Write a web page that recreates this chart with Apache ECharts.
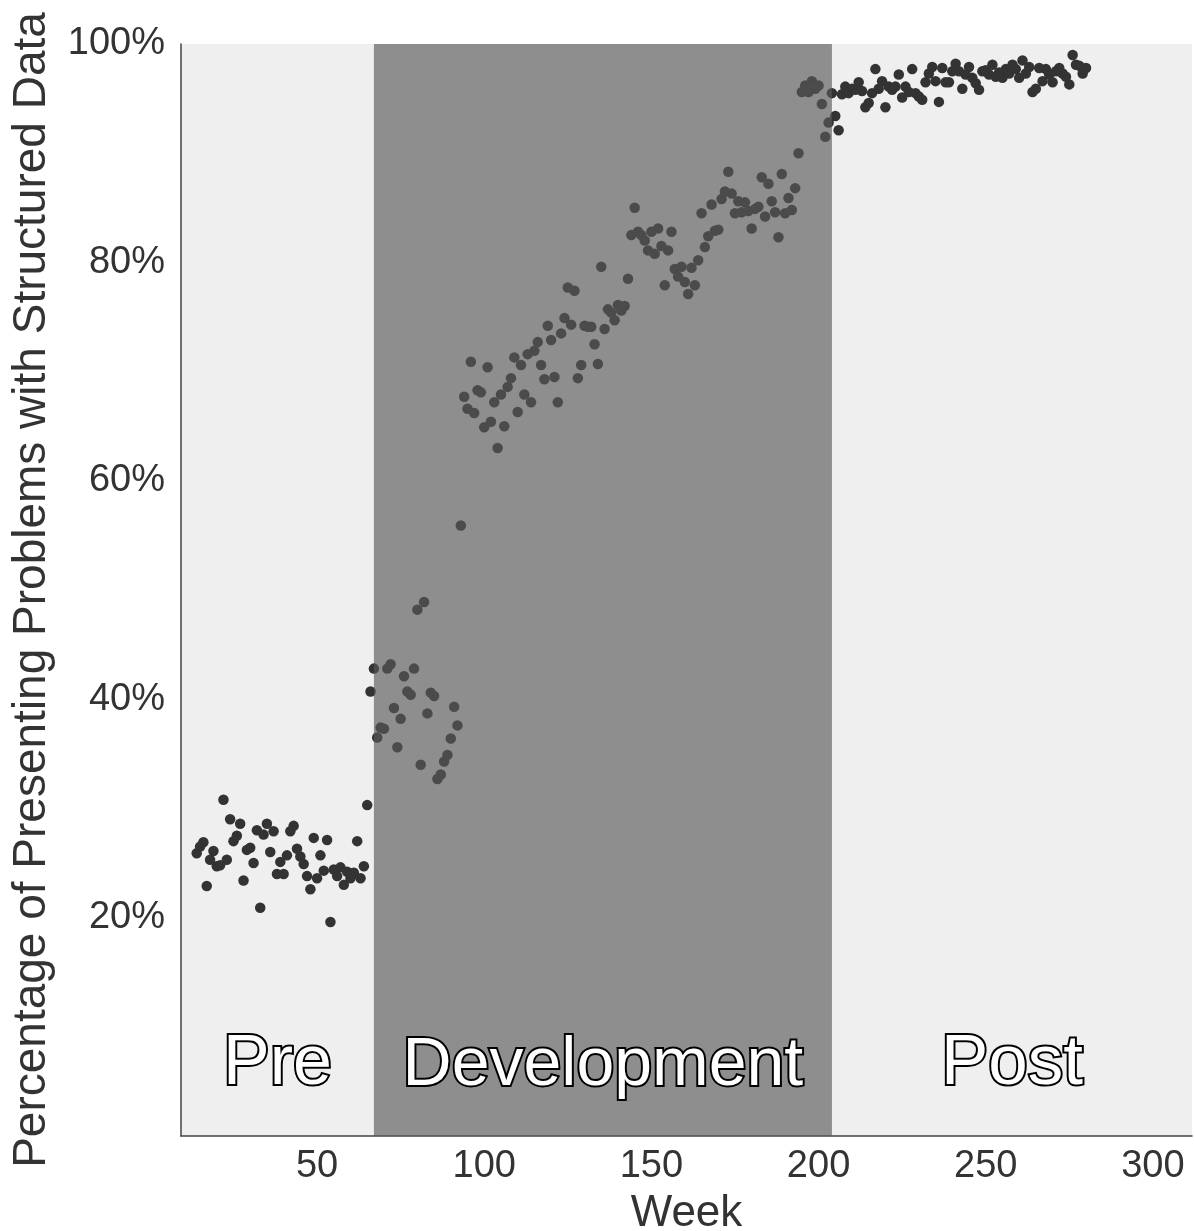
<!DOCTYPE html>
<html><head><meta charset="utf-8">
<script src="https://cdn.jsdelivr.net/npm/echarts@6/dist/echarts.min.js"></script>
<style>html,body{margin:0;padding:0;background:#fff;overflow:hidden}#c{width:1194px;height:1231px}</style>
</head><body><div id="c"></div>
<script>
// weekly percentage of presenting problems with structured data
const preData = [[14,25.9],[15,26.5],[16,26.9],[17,22.9],[18,25.3],[19,26.1],[20,24.7],[21,24.8],[22,30.8],[23,25.3],[24,29.0],[25,27.0],[26,27.5],[27,28.6],[28,23.4],[29,26.2],[30,26.4],[31,25.0],[32,28.0],[33,20.9],[34,27.6],[35,28.6],[36,26.0],[37,27.9],[38,24.0],[39,25.1],[40,24.0],[41,25.7],[42,27.9],[43,28.4],[44,26.3],[45,25.6],[46,24.9],[47,23.8],[48,22.6],[49,27.3],[50,23.6],[51,25.7],[52,24.3],[53,27.1],[54,19.6],[55,24.4],[56,23.8],[57,24.6],[58,23.0],[59,24.2],[60,23.6],[61,24.1],[62,27.0],[63,23.6],[64,24.7],[65,30.3],[66,40.7]];
const devData = [[67,42.8],[68,36.5],[69,37.4],[70,37.3],[71,42.8],[72,43.2],[73,39.2],[74,35.6],[75,38.2],[76,42.1],[77,40.7],[78,40.4],[79,42.8],[80,48.2],[81,34.0],[82,48.9],[83,38.7],[84,40.6],[85,40.3],[86,32.7],[87,33.1],[88,34.3],[89,34.9],[90,36.4],[91,39.3],[92,37.6],[93,55.9],
[94,67.7],[95,66.6],[96,70.9],[97,66.2],[98,68.3],[99,68.1],[100,64.9],[101,70.4],[102,65.4],[103,67.2],[104,63.0],[105,67.9],[106,65.0],[107,68.6],[108,69.4],[109,71.3],[110,66.3],[111,70.6],[112,67.9],[113,71.6],[114,67.2],[115,71.9],[116,72.7],[117,70.6],[118,69.3],[119,74.2],[120,72.9],[121,69.5],[122,67.2],[123,73.5],[124,74.9],[125,77.7],[126,74.3],[127,77.4],[128,69.4],[129,70.6],[130,74.2],[131,74.1],[132,74.1],[133,72.5],[134,70.7],[135,79.6],[136,73.9],[137,75.7],[138,75.4],[139,74.7],[140,76.1],[141,75.6],[142,76.0],[143,78.5],
[144,82.5],[145,85.0],[146,82.8],[147,82.5],[148,82.0],[149,81.1],[150,82.8],[151,80.8],[152,83.1],[153,81.5],[154,77.9],[155,81.1],[156,82.8],[157,79.4],[158,78.7],[159,79.6],[160,78.2],[161,77.1],[162,79.5],[163,77.9],[164,80.2],[165,84.5],[166,81.4],[167,82.4],[168,85.3],[169,82.9],[170,83.0],[171,85.8],[172,86.5],[173,88.3],[174,86.3],[175,84.5],[176,85.6],[177,84.6],[178,85.5],[179,84.7],[180,83.1],[181,84.9],[182,85.1],[183,87.8],[184,84.2],[185,87.2],[186,85.6],[187,84.6],[188,82.3],[189,88.1],[190,84.5],[191,85.9],[192,84.8],[193,86.8],[194,90.0],
[195,95.6],[196,96.2],[197,95.6],[198,96.6],[199,95.9],[200,96.2],[201,94.5],[202,91.5],[203,92.8]];
const postData = [[204,95.5],[205,93.4],[206,92.1],[207,95.4],[208,96.1],[209,95.5],[210,95.9],[211,95.8],[212,96.5],[213,95.7],[214,94.2],[215,94.6],[216,95.5],[217,97.7],[218,95.9],[219,96.6],[220,94.2],[221,96.1],[222,95.8],[223,96.1],[224,97.2],[225,95.1],[226,96.1],[227,95.6],[228,97.7],[229,95.5],[230,95.2],[231,94.9],[232,96.5],[233,97.3],[234,97.9],[235,96.6],[236,94.7],[237,97.8],[238,96.5],[239,96.5],[240,97.5],[241,98.2],[242,97.5],[243,95.9],[244,97.2],[245,97.9],[246,96.9],[247,96.4],[248,95.8],[249,97.5],[250,97.6],[251,97.2],[252,98.1],[253,97.0],[254,97.4],[255,96.9],[256,97.7],[257,97.3],[258,98.1],[259,97.7],[260,96.9],[261,98.5],[262,97.3],[263,97.9],[264,95.6],[265,95.9],[266,97.8],[267,96.6],[268,97.7],[269,97.2],[270,96.5],[271,97.5],[272,97.8],[273,97.3],[274,97.0],[275,96.3],[276,99.0],[277,98.1],[278,98.0],[279,97.3],[280,97.8]];
const phaseNames = ['Pre', 'Development', 'Post'];
const phaseBounds = [67, 204];   // week boundaries between phases
const xRange = [9.3, 311.7];
const yTicks = [0, 100, 20];     // min, max, interval (percent)

const chart = echarts.init(document.getElementById('c'), null, { width: 1194, height: 1231 });
const FONT = 'Liberation Sans, Arial, sans-serif';
function phaseLabel(size, family) {
  return {
    show: true, position: 'insideBottom', distance: 36,
    fontSize: size, fontFamily: family,
    color: '#ffffff', textBorderColor: '#000000', textBorderWidth: 4
  };
}
chart.setOption({
  animation: false,
  grid: { left: 181, right: 2, top: 44, bottom: 95, containLabel: false, outerBoundsMode: 'none',
    show: true, backgroundColor: '#efefef', borderWidth: 0 },
  xAxis: {
    type: 'value', min: xRange[0], max: xRange[1],
    name: 'Week', nameLocation: 'middle', nameGap: 56,
    nameTextStyle: { fontSize: 44, color: '#333', fontFamily: FONT },
    axisLine: { show: true, lineStyle: { color: '#444', width: 1.5 } },
    axisTick: { show: false }, splitLine: { show: false },
    axisLabel: { fontSize: 38, color: '#333', margin: 12, fontFamily: FONT,
      formatter: v => (Math.abs(v % 50) < 1e-6 ? String(v) : '') }
  },
  yAxis: {
    type: 'value', min: yTicks[0], max: yTicks[1], interval: yTicks[2],
    name: 'Percentage of Presenting Problems with Structured Data', nameLocation: 'middle', nameGap: 126,
    nameTextStyle: { fontSize: 46, color: '#333', fontFamily: FONT },
    axisLine: { show: true, lineStyle: { color: '#444', width: 1.5 } },
    axisTick: { show: false }, splitLine: { show: false },
    axisLabel: { fontSize: 38, color: '#333', margin: 16, fontFamily: FONT,
      formatter: v => (v === 0 ? '' : v + '%') }
  },
  series: [
    {
      type: 'scatter', z: 2, symbolSize: 10.5,
      data: preData.concat(devData, postData),
      itemStyle: { color: '#333333', opacity: 1 },
      markArea: {
        silent: true, z: 1,
        itemStyle: { color: 'rgba(0,0,0,0)' },
        data: [
          [{ name: phaseNames[0], xAxis: xRange[0], label: phaseLabel(70, 'Liberation Sans Narrow, Arial Narrow, ' + FONT) }, { xAxis: phaseBounds[0] }],
          [{ name: phaseNames[2], xAxis: phaseBounds[1], label: phaseLabel(71, FONT) }, { xAxis: xRange[1] }]
        ]
      }
    },
    {
      type: 'scatter', z: 5, data: [],
      markArea: {
        silent: true, z: 5,
        itemStyle: { color: 'rgba(89,89,89,0.65)' },
        data: [[{ name: phaseNames[1], xAxis: phaseBounds[0], label: phaseLabel(68, FONT) }, { xAxis: phaseBounds[1] }]]
      }
    }
  ]
});
</script></body></html>
